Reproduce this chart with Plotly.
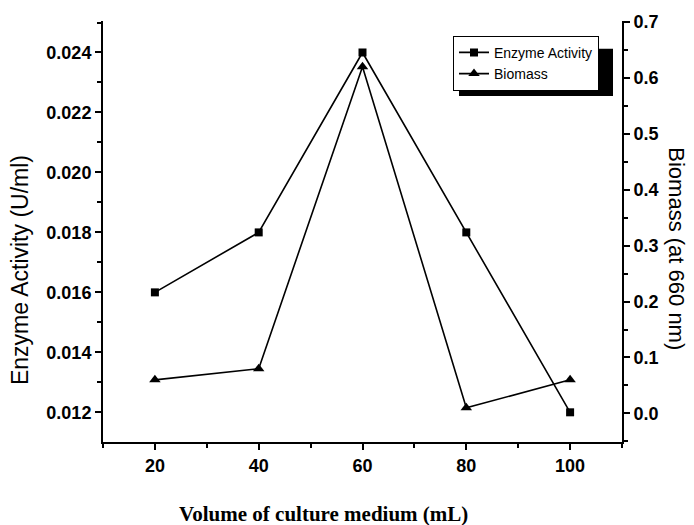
import plotly.graph_objects as go

volume = [20, 40, 60, 80, 100]
enzyme_activity = [0.016, 0.018, 0.024, 0.018, 0.012]
biomass = [0.06, 0.08, 0.62, 0.01, 0.06]

L, R, T, B = 103, 72, 16, 83
W, H = 694, 525
pw, ph = W - L - R, H - T - B

def px(x):
    return (x - L) / pw

def py(y):
    return (H - B - y) / ph

tickfont = dict(family="Liberation Sans, Arial", size=18, color="black", weight="bold")

fig = go.Figure()
fig.add_trace(go.Scatter(
    x=volume, y=enzyme_activity, name="Enzyme Activity", mode="lines+markers",
    line=dict(color="black", width=1.6),
    marker=dict(symbol="square", size=8, color="black"),
))
fig.add_trace(go.Scatter(
    x=volume, y=biomass, name="Biomass", mode="lines+markers", yaxis="y2",
    line=dict(color="black", width=1.6),
    marker=dict(symbol="triangle-up", size=10, color="black"),
))

fig.update_layout(
    width=W, height=H,
    margin=dict(l=L, r=R, t=T, b=B),
    plot_bgcolor="white", paper_bgcolor="white",
    showlegend=True,
    legend=dict(
        x=px(453), y=py(31), xanchor="left", yanchor="top",
        bgcolor="white", bordercolor="black", borderwidth=1,
        font=dict(family="Liberation Sans, Arial", size=14, color="black"),
        tracegroupgap=0, entrywidth=114, entrywidthmode="pixels",
    ),
    xaxis=dict(
        range=[10, 110], tick0=20, dtick=20, showgrid=False, zeroline=False,
        showline=True, linecolor="black", linewidth=2,
        ticks="outside", ticklen=6, tickwidth=2, tickcolor="black",
        tickfont=tickfont,
        minor=dict(dtick=10, tick0=10, ticks="outside", ticklen=4, tickwidth=1.5, tickcolor="black"),
    ),
    yaxis=dict(
        range=[0.01101, 0.02505], tick0=0.012, dtick=0.002, tickformat=".3f",
        showgrid=False, zeroline=False,
        showline=True, linecolor="black", linewidth=2,
        ticks="outside", ticklen=6, tickwidth=2, tickcolor="black",
        tickfont=tickfont,
        minor=dict(dtick=0.001, ticks="outside", ticklen=4, tickwidth=1.5, tickcolor="black"),
    ),
    yaxis2=dict(
        range=[-0.0512, 0.7018], tick0=0, dtick=0.1, tickformat=".1f",
        overlaying="y", side="right", anchor="x",
        showgrid=False, zeroline=False,
        showline=True, linecolor="black", linewidth=2,
        ticks="outside", ticklen=6, tickwidth=2, tickcolor="black",
        tickfont=tickfont,
        minor=dict(dtick=0.05, ticks="outside", ticklen=4, tickwidth=1.5, tickcolor="black"),
    ),
    shapes=[
        dict(type="rect", xref="paper", yref="paper",
             x0=px(459), x1=px(613), y0=py(92), y1=py(44),
             fillcolor="black", line=dict(width=0), layer="below"),
    ],
    annotations=[
        dict(text="Enzyme Activity (U/ml)", xref="paper", yref="paper",
             x=px(20), y=py(268), textangle=-90, showarrow=False,
             xanchor="center", yanchor="middle",
             font=dict(family="Liberation Sans, Arial", size=23, color="black")),
        dict(text="Biomass (at 660 nm)", xref="paper", yref="paper",
             x=px(677), y=py(246), textangle=90, showarrow=False,
             xanchor="center", yanchor="middle",
             font=dict(family="Liberation Sans, Arial", size=22, color="black")),
        dict(text="<b>Volume of culture medium (mL)</b>", xref="paper", yref="paper",
             x=px(323), y=py(515), showarrow=False,
             xanchor="center", yanchor="middle",
             font=dict(family="Liberation Serif, Times New Roman", size=21, color="black")),
    ],
)

fig.write_html("out.html")
